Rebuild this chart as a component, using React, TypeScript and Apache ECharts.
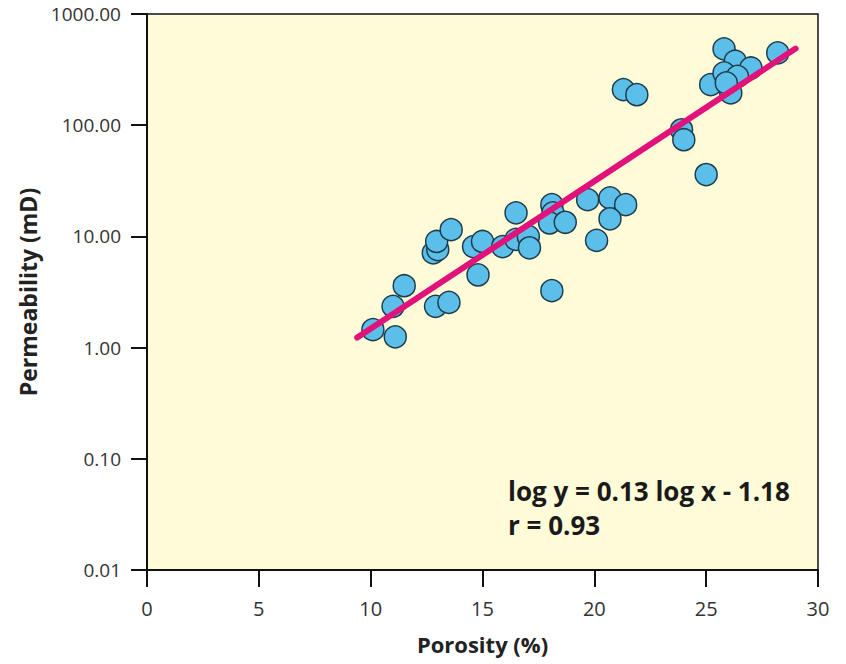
import React, { useEffect, useRef } from "react";
import * as echarts from "echarts";

const porosity = [10.1, 11.1, 11.0, 11.5, 12.9, 13.5, 12.8, 13.0, 12.95, 13.6, 14.6, 14.8, 15.0, 15.9, 16.5, 16.5, 17.05, 17.1, 18.1, 18.15, 18.0, 18.7, 18.1, 19.7, 20.7, 21.4, 20.7, 20.1, 21.3, 21.9, 23.9, 24.0, 25.0, 25.8, 25.2, 26.3, 25.8, 27.0, 26.4, 26.1, 25.9, 28.2];
const permeability = [1.45, 1.25, 2.35, 3.6, 2.35, 2.55, 7.1, 7.6, 9.0, 11.5, 8.1, 4.5, 9.0, 8.1, 16.3, 9.4, 10.0, 7.9, 19.3, 16.3, 13.2, 13.4, 3.25, 21.4, 22.2, 19.3, 14.4, 9.2, 209, 188, 91, 74, 36, 485, 232, 376, 295, 327, 275, 195, 240, 447];
const fitX = [9.4, 29.0];
const fitY = [1.23, 489];
const xTicks = [0, 5, 10, 15, 20, 25, 30];
const equationText = "log y = 0.13 log x - 1.18";
const rText = "r = 0.93";

export default function App() {
  const ref = useRef<HTMLDivElement>(null);
  useEffect(() => {
    const chart = echarts.init(ref.current!, null, { renderer: "svg" });
    const font = "'Open Sans', 'Noto Sans', sans-serif";
    chart.setOption({
      animation: false,
      backgroundColor: "#ffffff",
      grid: {
        left: 147,
        right: 28,
        top: 14,
        bottom: 94,
        show: true,
        backgroundColor: "#fefbd8",
        borderColor: "#111",
        borderWidth: 1.5,
      },
      xAxis: {
        type: "value",
        min: 0,
        max: 30,
        interval: 5,
        name: "Porosity (%)",
        nameLocation: "middle",
        nameGap: 63,
        nameTextStyle: { fontFamily: font, fontWeight: "bold", fontSize: 22, color: "#222" },
        axisLine: { show: true, lineStyle: { color: "#111", width: 2 } },
        axisTick: { show: true, inside: false, length: 17, lineStyle: { color: "#111", width: 2 } },
        axisLabel: {
          margin: 28,
          fontFamily: font,
          fontSize: 20,
          color: "#333",
          formatter: (v: number) => (xTicks.includes(v) ? String(v) : ""),
        },
        splitLine: { show: false },
      },
      yAxis: {
        type: "log",
        logBase: 10,
        min: 0.01,
        max: 1000,
        name: "Permeability (mD)",
        nameLocation: "middle",
        nameGap: 104,
        nameTextStyle: { fontFamily: font, fontWeight: "bold", fontSize: 23, color: "#222" },
        axisLine: { show: true, lineStyle: { color: "#111", width: 2 } },
        axisTick: { show: true, length: 16, lineStyle: { color: "#111", width: 2 } },
        minorTick: { show: false },
        axisLabel: {
          margin: 26,
          fontFamily: font,
          fontSize: 19,
          color: "#333",
          formatter: (v: number) => v.toFixed(2),
        },
        splitLine: { show: false },
      },
      series: [
        {
          type: "scatter",
          data: porosity.map((x, i) => [x, permeability[i]]),
          symbol: "circle",
          symbolSize: 22,
          itemStyle: { color: "#5cbfea", borderColor: "#1e3d4c", borderWidth: 1.5, opacity: 1 },
          z: 2,
        },
        {
          type: "line",
          data: fitX.map((x, i) => [x, fitY[i]]),
          showSymbol: false,
          symbol: "none",
          lineStyle: { color: "#e2127b", width: 6, cap: "round" },
          z: 3,
        },
      ],
      graphic: [
        {
          type: "text",
          left: 508,
          top: 478,
          style: { text: equationText, font: `bold 26px ${font}`, fill: "#1a1a1a" },
          z: 10,
        },
        {
          type: "text",
          left: 508,
          top: 512,
          style: { text: rText, font: `bold 26px ${font}`, fill: "#1a1a1a" },
          z: 10,
        },
      ],
    });
    return () => chart.dispose();
  }, []);
  return (
    <div
      ref={ref}
      style={{ position: "fixed", left: 0, top: 0, width: 846, height: 664 }}
    />
  );
}
